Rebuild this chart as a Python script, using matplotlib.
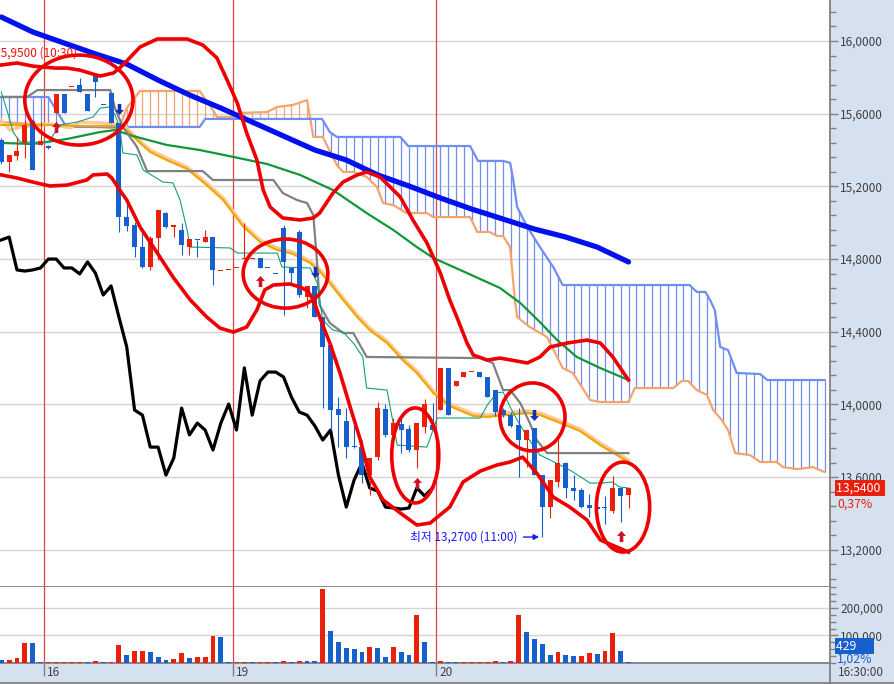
import numpy as np
import matplotlib
matplotlib.use("Agg")
import matplotlib.pyplot as plt
from matplotlib.patches import Ellipse
from matplotlib.path import Path
from matplotlib.lines import Line2D
from matplotlib.ticker import MultipleLocator, FixedLocator, FuncFormatter

plt.rcParams['font.family'] = ['Noto Sans CJK KR', 'DejaVu Sans']

# --- 30 min candles, index 0 = first bar on screen ---
opens = [15.455, 15.334, 15.367, 15.439, 15.560, 15.428, 15.422, 15.604, 15.708, 15.745,
         15.758, 15.708, 15.807, 15.650, 15.714, 15.549, 15.031, 14.987, 14.866, 14.756,
         14.916, 15.053, 14.976, 14.960, 14.866, 14.907, 14.894, 14.921, 14.732, 14.738,
         14.749, 14.798, 14.798, 14.806, 14.753, 14.720, 14.971, 14.751, 14.948, 14.591,
         14.652, 14.481, 14.327, 13.975, 13.908, 13.767, 13.765, 13.611, 13.710, 13.975,
         13.832, 13.892, 13.864, 13.749, 13.875, 13.886, 13.969, 14.201, 14.101, 14.151,
         14.176, 14.178, 14.151, 14.079, 13.969, 13.941, 13.886, 13.804, 13.870, 13.611,
         13.435, 13.573, 13.677, 13.540, 13.529, 13.446, 13.435, 13.432, 13.413, 13.540,
         13.501]
highs = [15.466, 15.373, 15.472, 15.565, 15.565, 15.554, 15.425, 15.708, 15.708, 15.747,
         15.796, 15.708, 15.807, 15.650, 15.714, 15.549, 15.125, 15.004, 14.943, 14.927,
         15.070, 15.059, 14.987, 14.998, 14.910, 14.907, 14.960, 14.921, 14.736, 14.742,
         14.753, 14.998, 14.802, 14.806, 14.753, 14.720, 14.987, 14.751, 14.960, 14.652,
         14.652, 14.481, 14.327, 14.041, 13.980, 13.886, 13.804, 13.705, 14.013, 14.002,
         13.925, 13.930, 13.886, 13.897, 14.030, 14.008, 14.201, 14.201, 14.129, 14.178,
         14.178, 14.178, 14.151, 14.079, 13.980, 13.958, 13.980, 13.859, 13.870, 13.611,
         13.584, 13.804, 13.682, 13.611, 13.540, 13.507, 13.501, 13.496, 13.606, 13.540,
         13.540]
lows = [15.323, 15.279, 15.345, 15.356, 15.290, 15.428, 15.408, 15.604, 15.604, 15.745,
        15.719, 15.615, 15.692, 15.648, 15.549, 14.948, 14.954, 14.811, 14.751, 14.740,
        14.795, 14.971, 14.921, 14.822, 14.822, 14.811, 14.894, 14.657, 14.732, 14.738,
        14.749, 14.798, 14.798, 14.751, 14.751, 14.718, 14.492, 14.668, 14.591, 14.530,
        14.481, 13.980, 13.859, 13.765, 13.705, 13.760, 13.567, 13.501, 13.694, 13.820,
        13.765, 13.732, 13.738, 13.650, 13.842, 13.859, 13.969, 13.941, 14.101, 14.151,
        14.176, 14.151, 14.041, 13.936, 13.930, 13.875, 13.600, 13.655, 13.611, 13.270,
        13.375, 13.545, 13.485, 13.474, 13.430, 13.380, 13.375, 13.342, 13.402, 13.353,
        13.430]
closes = [15.334, 15.373, 15.395, 15.538, 15.290, 15.450, 15.411, 15.708, 15.604, 15.747,
          15.719, 15.615, 15.774, 15.648, 15.549, 15.031, 14.982, 14.866, 14.756, 14.916,
          15.070, 14.976, 14.987, 14.877, 14.910, 14.905, 14.921, 14.740, 14.734, 14.740,
          14.751, 14.800, 14.800, 14.751, 14.751, 14.718, 14.784, 14.723, 14.602, 14.652,
          14.481, 14.316, 13.969, 13.941, 13.765, 13.765, 13.611, 13.705, 13.980, 13.832,
          13.897, 13.859, 13.749, 13.897, 14.002, 13.859, 14.201, 13.941, 14.129, 14.178,
          14.178, 14.151, 14.041, 13.958, 13.941, 13.881, 13.804, 13.859, 13.611, 13.435,
          13.584, 13.677, 13.540, 13.523, 13.435, 13.430, 13.424, 13.430, 13.540, 13.496,
          13.540]

volumes = [12000, 12000, 19500, 71600, 71600, 2200, 2200, 2200, 2200, 2200,
           2200, 2200, 5800, 2200, 2200, 66800, 30300, 42400, 42400, 38700,
           23000, 12000, 15700, 35000, 19500, 23000, 23000, 99600, 96000, 2200,
           2200, 2200, 2200, 2200, 2200, 2200, 5800, 2200, 8400, 5800,
           5800, 267500, 118000, 75300, 55800, 52200, 41200, 59500, 55800, 23000,
           59500, 41200, 30300, 172600, 77700, 2200, 5800, 2200, 2200, 2200,
           2200, 2200, 2200, 5800, 2200, 5800, 172600, 113000, 88700, 70400,
           30300, 41200, 30300, 26600, 26600, 37600, 34000, 44900, 110600, 44900,
           429]
vol_up = [0, 1, 1, 1, 0, 0, 1, 1, 1, 1, 1, 0, 1, 0, 1, 1, 0, 1, 1, 0,
          0, 0, 1, 1, 0, 1, 1, 1, 0, 0, 1, 1, 0, 1, 1, 0, 1, 0, 1, 0,
          0, 1, 0, 0, 0, 0, 0, 1, 0, 0, 1, 0, 0, 1, 0, 0, 1, 0, 0, 1,
          1, 1, 1, 1, 0, 1, 1, 0, 0, 0, 0, 1, 0, 0, 1, 1, 0, 1, 1, 0, 0]

# --- indicator lines (bar index, price) ---
ma_blue_x = [0, 4, 8, 12, 16, 20, 24, 28, 32, 36, 40, 44, 48, 52, 56, 60, 64, 68, 72, 76, 80]
ma_blue_y = [16.132, 16.050, 15.989, 15.929, 15.873, 15.785, 15.703, 15.631, 15.554, 15.477,
             15.400, 15.345, 15.263, 15.202, 15.136, 15.075, 15.020, 14.965, 14.921, 14.866, 14.784]

ma_green_x = [0, 4.0, 8.4, 12.6, 14.5, 16.8, 21.1, 25.3, 29.6, 33.9, 38.1, 42.3, 46.6, 50.0,
              53.0, 55.1, 59.4, 63.6, 66.2, 68.7, 70.9, 73.4, 76.4, 80]
ma_green_y = [15.439, 15.433, 15.461, 15.499, 15.510, 15.477, 15.428, 15.400, 15.362, 15.323,
              15.263, 15.180, 15.053, 14.960, 14.866, 14.806, 14.723, 14.641, 14.558, 14.453,
              14.354, 14.261, 14.200, 14.134]

ma_orange_x = [0, 6.2, 10.4, 14.8, 16.0, 17.7, 19.0, 21.1, 23.7, 26.2, 28.3, 30.8, 33.0, 35.2,
               37.2, 39.4, 40.7, 41.9, 43.6, 45.4, 47.0, 49.2, 51.2, 53.0, 55.1, 57.2, 60.2,
               62.0, 64.5, 67.1, 68.7, 71.3, 73.8, 76.4, 80]
ma_orange_y = [15.538, 15.538, 15.532, 15.532, 15.510, 15.439, 15.389, 15.345, 15.296, 15.207,
               15.125, 14.982, 14.894, 14.850, 14.828, 14.778, 14.729, 14.668, 14.575, 14.481,
               14.409, 14.338, 14.244, 14.173, 14.063, 13.991, 13.936, 13.931, 13.942, 13.953,
               13.942, 13.898, 13.854, 13.776, 13.683]

ma_peach_x = [0, 1.1, 2.4, 6.2, 8.8, 10.0, 12.6, 14.8, 16.0, 17.7, 19.0, 21.1, 23.7, 26.2,
              28.3, 30.8, 33.0, 35.2, 37.2, 39.4, 40.7, 41.9, 43.6, 45.4, 47.0, 49.2, 51.2,
              53.0, 55.1, 57.2, 60.2, 62.0, 64.5, 67.1, 68.7, 71.3, 73.8, 76.4, 80]
ma_peach_y = [15.565, 15.510, 15.527, 15.543, 15.521, 15.554, 15.549, 15.543, 15.521, 15.450,
              15.400, 15.356, 15.307, 15.218, 15.136, 14.993, 14.905, 14.861, 14.839, 14.789,
              14.740, 14.679, 14.586, 14.492, 14.420, 14.349, 14.255, 14.184, 14.074, 14.002,
              13.947, 13.942, 13.953, 13.964, 13.953, 13.909, 13.865, 13.787, 13.694]

kijun_x = [0, 3.3, 4.6, 13.9, 14.5, 15.5, 17.3, 18.6, 25.7, 27.0, 34.7, 35.9, 37.7, 39.0,
           39.8, 40.3, 40.6, 41.9, 43.6, 44.9, 46.6, 61.1, 62.7, 64.0, 64.9, 66.2, 67.4,
           68.3, 69.6, 80]
kijun_y = [15.692, 15.692, 15.730, 15.730, 15.631, 15.527, 15.417, 15.284, 15.284, 15.235,
           15.235, 15.163, 15.125, 15.108, 15.042, 14.767, 14.547, 14.448, 14.393, 14.393,
           14.261, 14.255, 14.228, 14.079, 14.079, 14.007, 13.898, 13.804, 13.732, 13.732]

tenkan_x = [0, 0.9, 1.5, 2.4, 6.0, 7.5, 9.7, 11.7, 12.6, 13.9, 14.5, 15.1, 15.5, 17.3, 18.1,
            20.6, 21.9, 22.8, 23.7, 24.1, 29.2, 30.1, 35.2, 35.8, 39.4, 40.3, 41.0, 42.3,
            43.6, 44.9, 46.1, 46.6, 49.2, 50.5, 54.3, 55.6, 61.1, 62.0, 63.2, 64.0, 64.9,
            65.8, 67.1, 68.7, 70.0, 72.5, 75.1, 76.7, 77.9, 78.9, 80]
tenkan_y = [15.719, 15.593, 15.499, 15.444, 15.444, 15.538, 15.554, 15.582, 15.631, 15.637,
            15.593, 15.527, 15.384, 15.373, 15.290, 15.224, 15.219, 15.125, 14.960, 14.866,
            14.861, 14.833, 14.833, 14.756, 14.751, 14.668, 14.464, 14.409, 14.398, 14.338,
            14.261, 14.090, 14.079, 13.776, 13.765, 13.925, 13.925, 13.997, 14.063, 14.068,
            13.986, 13.914, 13.820, 13.721, 13.694, 13.639, 13.567, 13.567, 13.573, 13.545,
            13.540]

span_a_x = [0, 6.2, 14.5, 15.1, 16.0, 17.7, 25.3, 27.0, 27.5, 29.6, 30.4, 33.9, 35.2, 37.2,
            39.0, 39.8, 41.0, 42.8, 43.6, 44.9, 46.6, 47.9, 48.7, 50.0, 51.7, 54.3, 55.1,
            59.8, 60.7, 62.3, 63.2, 64.0, 64.9, 65.5, 65.8, 67.4, 69.6, 70.9, 71.6, 72.9,
            75.1, 76.4, 80.0, 80.8, 85.7, 86.8, 87.6, 88.7, 90.0, 90.8, 91.9, 92.7, 93.6,
            95.5, 96.8, 98.9, 99.7, 101.5, 103.5, 105]
span_a_y = [15.554, 15.538, 15.521, 15.527, 15.631, 15.725, 15.725, 15.620, 15.582, 15.582,
            15.604, 15.609, 15.637, 15.648, 15.675, 15.472, 15.472, 15.318, 15.279, 15.279,
            15.252, 15.197, 15.108, 15.097, 15.053, 15.053, 15.031, 15.031, 14.949, 14.949,
            14.927, 14.927, 14.866, 14.575, 14.481, 14.426, 14.371, 14.261, 14.200, 14.173,
            14.024, 14.013, 14.013, 14.090, 14.090, 14.129, 14.129, 14.079, 14.052, 13.969,
            13.914, 13.859, 13.732, 13.721, 13.683, 13.683, 13.655, 13.644, 13.655, 13.628]

span_b_x = [0, 6.0, 7.0, 8.3, 25.3, 26.0, 40.9, 41.9, 42.8, 50.9, 51.9, 59.8, 60.8, 64.0,
            64.9, 65.3, 65.8, 67.1, 68.7, 70.4, 71.6, 87.8, 88.7, 89.8, 90.4, 91.0, 91.7,
            92.7, 93.8, 96.8, 97.7, 105]
span_b_y = [15.692, 15.692, 15.620, 15.527, 15.527, 15.571, 15.571, 15.499, 15.472, 15.472,
            15.422, 15.422, 15.340, 15.340, 15.329, 15.235, 15.086, 14.976, 14.866, 14.756,
            14.657, 14.657, 14.619, 14.619, 14.575, 14.520, 14.316, 14.299, 14.173, 14.167,
            14.134, 14.134]

band_up_x = [0, 2.0, 4.0, 6.9, 8.4, 10.0, 11.7, 12.6, 14.3, 15.1, 16.0, 17.7, 19.9, 23.7,
             25.7, 27.5, 28.8, 30.1, 31.3, 32.6, 33.4, 34.3, 35.9, 38.1, 39.8, 40.6, 42.3,
             43.6, 45.4, 46.6, 48.3, 49.6, 50.9, 52.5, 54.3, 56.0, 57.2, 58.1, 59.4, 60.2,
             62.0, 63.6, 67.1, 68.7, 70.0, 72.2, 74.7, 76.4, 78.0, 79.3, 80.0]
band_up_y = [15.868, 15.879, 15.862, 15.851, 15.851, 15.840, 15.818, 15.807, 15.824, 15.851,
             15.890, 15.967, 16.011, 16.011, 15.978, 15.907, 15.785, 15.659, 15.494, 15.345,
             15.180, 15.086, 15.026, 15.015, 15.026, 15.053, 15.163, 15.224, 15.263, 15.279,
             15.252, 15.197, 15.141, 15.015, 14.888, 14.723, 14.575, 14.481, 14.338, 14.272,
             14.244, 14.255, 14.228, 14.261, 14.316, 14.338, 14.354, 14.338, 14.261, 14.178,
             14.134]
band_lo_x = [0, 2.0, 4.0, 6.2, 8.4, 10.9, 11.7, 13.5, 14.1, 15.1, 16.0, 17.7, 19.9, 21.9,
             24.1, 26.2, 27.9, 29.6, 31.3, 32.6, 33.6, 34.7, 36.8, 38.1, 39.1, 39.8, 40.6,
             41.9, 43.2, 44.5, 45.8, 47.0, 48.7, 50.9, 53.0, 54.7, 57.2, 58.9, 61.1, 63.2,
             64.9, 66.5, 68.3, 70.4, 72.5, 74.7, 76.4, 80.0]
band_lo_y = [15.263, 15.246, 15.224, 15.202, 15.207, 15.235, 15.263, 15.268, 15.246, 15.180,
             15.125, 14.976, 14.833, 14.701, 14.575, 14.481, 14.420, 14.398, 14.426, 14.520,
             14.630, 14.657, 14.663, 14.646, 14.624, 14.575, 14.481, 14.338, 14.173, 13.985,
             13.804, 13.600, 13.474, 13.402, 13.336, 13.347, 13.435, 13.573, 13.633, 13.666,
             13.683, 13.710, 13.622, 13.490, 13.435, 13.364, 13.254, 13.187]

# hand drawn circles: (center index, center price, width in bars, height in price)
circles = [(9.9, 15.675, 13.8, 0.495),
           (36.25, 14.720, 10.8, 0.380),
           (52.8, 13.719, 6.0, 0.523),
           (67.75, 13.931, 8.3, 0.374),
           (79.3, 13.435, 6.8, 0.495)]

# signal arrows
up_idx = [7, 33, 53, 79]
up_price = [15.527, 14.679, 13.567, 13.276]
dn_idx = [15, 40, 68]
dn_price = [15.626, 14.729, 13.944]

day_breaks = [5.5, 29.5, 55.5]
day_labels = ['16', '19', '20']

RED = '#e8200c'
BLUE = '#1560cc'
PANEL = '#d6e1ef'
GRAY = '#808080'
TXT = '#404040'
FS = 8.5

fig = plt.figure(figsize=(8.94, 6.84), dpi=100, facecolor=PANEL)
ax = fig.add_axes([0, 97 / 684, 830 / 894, 587 / 684])
axv = fig.add_axes([0, 21 / 684, 830 / 894, 76 / 684])
for a in (ax, axv):
    a.set_facecolor('white')
    a.set_xlim(-0.166, 105.7)
    for s in ('left', 'top'):
        a.spines[s].set_visible(False)
    for s in ('right', 'bottom'):
        a.spines[s].set_color(GRAY)
        a.spines[s].set_linewidth(1.3)
    a.yaxis.tick_right()
    a.tick_params(axis='y', which='major', length=6, width=1, color=GRAY,
                  labelsize=FS, labelcolor=TXT, pad=1.5)
    a.tick_params(axis='y', which='minor', length=4, width=1, color=GRAY)
    a.set_axisbelow(True)
    for b in day_breaks:
        a.axvline(b, color='#e04040', lw=0.9, zorder=1)

ax.set_ylim(12.995, 16.2257)
ax.yaxis.set_major_locator(MultipleLocator(0.4))
ax.yaxis.set_minor_locator(MultipleLocator(0.08))
ax.yaxis.set_major_formatter(FuncFormatter(lambda v, p: f'{v:.4f}'.replace('.', ',')))
ax.grid(True, axis='y', which='major', color='#d4d4d4', lw=1)
ax.tick_params(axis='x', which='both', bottom=False, labelbottom=False)

# --- ichimoku cloud ---
hx = np.arange(0, 106)
sa = np.interp(hx, span_a_x, span_a_y)
sb = np.interp(hx, span_b_x, span_b_y)
hcol = np.where(sb >= sa, '#6e8ff0', '#f4a46c')
ax.vlines(hx, np.minimum(sa, sb), np.maximum(sa, sb), colors=hcol, lw=0.9, zorder=1.5)
ax.plot(span_a_x, span_a_y, color='#f4a46c', lw=1.6, zorder=2)
ax.plot(span_b_x, span_b_y, color='#6e8ff0', lw=1.6, zorder=2)

# --- moving averages / ichimoku lines ---
ax.plot(ma_peach_x, ma_peach_y, color='#ffc89a', lw=2.4, zorder=3)
ax.plot(ma_orange_x, ma_orange_y, color='#f0a800', lw=1.6, zorder=3)
ax.plot(ma_green_x, ma_green_y, color='#109838', lw=1.6, zorder=3)
ax.plot(kijun_x, kijun_y, color='#808080', lw=1.6, zorder=3)
ax.plot(tenkan_x, tenkan_y, color='#10a080', lw=0.8, zorder=3)
ax.plot(ma_blue_x, ma_blue_y, color='#0010ee', lw=3.8, zorder=3, solid_capstyle='round')
x = np.arange(len(closes))
ax.plot(x[:-25], closes[25:], color='black', lw=2.3, zorder=3)  # lagging span

# --- candles ---
o = np.array(opens)
c = np.array(closes)
cols = np.where(c >= o, RED, BLUE)
ax.vlines(x, lows, highs, colors=cols, lw=0.8, zorder=4)
ax.bar(x, np.maximum(np.abs(c - o), 0.006), bottom=np.minimum(o, c), width=0.64,
       color=cols, linewidth=0, zorder=4)

# --- bands and circles ---
ax.plot(band_up_x, band_up_y, color='#ee0000', lw=2.6, zorder=5)
ax.plot(band_lo_x, band_lo_y, color='#ee0000', lw=2.6, zorder=5)
for cx, cy, w, h in circles:
    ax.add_patch(Ellipse((cx, cy), w, h, fill=False, ec='#ee0000', lw=2.6, zorder=5))

up_arrow = Path([(0, 1), (0.8, 0.1), (0.32, 0.1), (0.32, -1), (-0.32, -1), (-0.32, 0.1),
                 (-0.8, 0.1), (0, 1)], closed=True)
dn_arrow = Path([(0, -1), (0.8, -0.1), (0.32, -0.1), (0.32, 1), (-0.32, 1), (-0.32, -0.1),
                 (-0.8, -0.1), (0, -1)], closed=True)
ax.plot(up_idx, up_price, ls='none', marker=up_arrow, ms=8, color='#d0102a', mec='none', zorder=6)
ax.plot(dn_idx, dn_price, ls='none', marker=dn_arrow, ms=8, color='#1030b0', mec='none', zorder=6)

# --- labels in the price panel ---
ax.text(-0.95, 15.934, '15,9500 (10:30)', ha='left', va='center', color='#ee1010',
        fontsize=FS, clip_on=True, zorder=7)
ax.annotate('최저 13,2700 (11:00)', xy=(68.6, 13.27), xytext=(65.9, 13.27),
            ha='right', va='center', color='#1a1aff', fontsize=FS, zorder=7,
            arrowprops=dict(arrowstyle='-|>', color='#1a1aff', lw=1.0, shrinkA=2, shrinkB=0,
                            mutation_scale=8))
last = closes[-1]
ax.annotate(f'{last:.4f}'.replace('.', ',') + ' ', xy=(1, last),
            xycoords=('axes fraction', 'data'),
            xytext=(6, 0), textcoords='offset pixels', ha='left', va='center', color='white',
            fontsize=FS + 0.3, annotation_clip=False, zorder=10,
            bbox=dict(boxstyle='square,pad=0.12', fc=RED, ec='none'))
ax.annotate('0,37%', xy=(1, last), xycoords=('axes fraction', 'data'),
            xytext=(7, -16), textcoords='offset pixels', ha='left', va='center', color=RED,
            fontsize=FS + 0.3, annotation_clip=False, zorder=10)

# --- volume panel ---
vcol = [RED if u else BLUE for u in vol_up]
axv.bar(x, np.maximum(volumes, 3000), width=0.62, color=vcol, linewidth=0, zorder=3)
axv.set_ylim(0, 276000)
axv.yaxis.set_major_locator(FixedLocator([100000, 200000]))
axv.yaxis.set_minor_locator(MultipleLocator(25000))
axv.yaxis.set_major_formatter(FuncFormatter(lambda v, p: f'{int(v):,}'))
axv.grid(True, axis='y', which='major', color='#d4d4d4', lw=1)
axv.set_xticks(day_breaks)
axv.tick_params(axis='x', which='both', length=9, width=1, color=GRAY, labelbottom=False)
for b, lbl in zip(day_breaks, day_labels):
    axv.annotate(lbl, xy=(b, 0), xycoords=('data', 'axes fraction'), xytext=(3, -3),
                 textcoords='offset pixels', ha='left', va='top', fontsize=FS, color=TXT,
                 annotation_clip=False)
axv.annotate(f'{volumes[-1]}      ', xy=(1, 0.22), xycoords='axes fraction', xytext=(6, 0),
             textcoords='offset pixels', ha='left', va='center', color='white',
             fontsize=FS + 0.3, annotation_clip=False, zorder=10,
             bbox=dict(boxstyle='square,pad=0.12', fc=BLUE, ec='none'))
axv.annotate('1,02%', xy=(1, 0.05), xycoords='axes fraction', xytext=(7, 0),
             textcoords='offset pixels', ha='left', va='center', color=BLUE,
             fontsize=FS + 0.3, annotation_clip=False, zorder=10)

# frame lines of the time strip
fig.add_artist(Line2D([830 / 894, 830 / 894], [0, 21 / 684], color=GRAY, lw=1.3))
fig.add_artist(Line2D([0, 1], [1 / 684, 1 / 684], color=GRAY, lw=1.3))
fig.text(838 / 894, 11 / 684, '16:30:00', ha='left', va='center', fontsize=FS, color=TXT)

fig.savefig('out.png', dpi=100, facecolor=PANEL)
